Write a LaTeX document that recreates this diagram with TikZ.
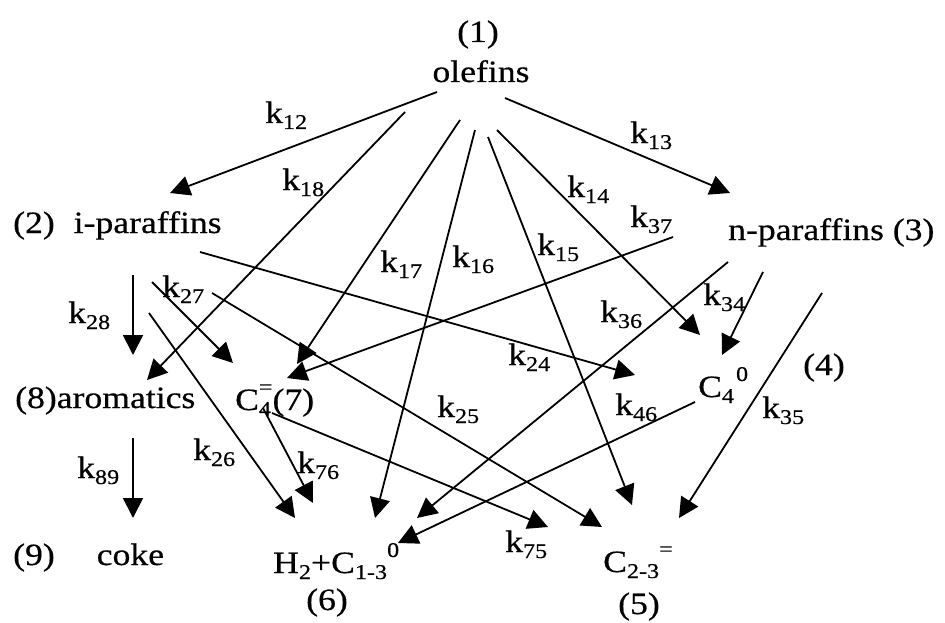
\documentclass[tikz,border=0pt]{standalone}
\usepackage{fontspec}
\setmainfont{Liberation Serif}[FakeStretch=1.15,Ligatures=NoCommon,FakeBold=0.5]
\usetikzlibrary{arrows.meta}
\newcommand\subf{\fontsize{21}{21}\selectfont}
\newcommand\mysub[1]{\raisebox{-6pt}{\subf #1}}
\newcommand\mysup[1]{\raisebox{16pt}{\subf #1}}
\newcommand\kl[1]{k\mysub{#1}}
\begin{document}
\begin{tikzpicture}[x=1pt,y=-1pt,
  every node/.style={inner sep=0pt,font=\fontsize{31}{34}\selectfont},
  lab/.style={anchor=base west},
  conn/.style={line width=1.8pt,-{Triangle[length=20pt,width=20pt]}}]
\useasboundingbox (0,0) rectangle (945,623);
% species
\node[anchor=base] (n1) at (478,42) {(1)};
\node[anchor=base] (ol) at (481,82) {olefins};
\node[lab] (n2) at (13,233) {(2)\hspace{19pt}i-paraffins};
\node[lab] (n3) at (728,240) {n-paraffins (3)};
\node[lab] (n8) at (15,408) {(8)aromatics};
\node[lab] (n7) at (235,410) {C\rlap{\mysub{4}}\mysup{=}(7)};
\node[lab] (n4) at (698,397) {C\mysub{4}\hspace{2pt}\mysup{0}};
\node[lab] (n4b) at (803,375) {(4)};
\node[lab] (n9) at (13,565) {(9)\hspace{42pt}coke};
\node[lab] (n6) at (273,573) {H\mysub{2}+C\mysub{1-3}\mysup{0}};
\node[anchor=base] (n6b) at (327,610) {(6)};
\node[lab] (n5) at (603,572) {C\mysub{2-3}\mysup{=}};
\node[anchor=base] (n5b) at (639,614) {(5)};
% rate labels
\node[lab] (k12) at (265,123) {\kl{12}};
\node[lab] (k18) at (282,190) {\kl{18}};
\node[lab] (k17) at (380,272) {\kl{17}};
\node[lab] (k16) at (452,267) {\kl{16}};
\node[lab] (k15) at (537,255) {\kl{15}};
\node[lab] (k14) at (567,197) {\kl{14}};
\node[lab] (k13) at (630,143) {\kl{13}};
\node[lab] (k37) at (630,227) {\kl{37}};
\node[lab] (k34) at (703,305) {\kl{34}};
\node[lab] (k36) at (600,322) {\kl{36}};
\node[lab] (k24) at (508,365) {\kl{24}};
\node[lab] (k46) at (615,415) {\kl{46}};
\node[lab] (k35) at (762,418) {\kl{35}};
\node[lab] (k25) at (437,417) {\kl{25}};
\node[lab] (k27) at (162,297) {\kl{27}};
\node[lab] (k28) at (68,323) {\kl{28}};
\node[lab] (k89) at (77,478) {\kl{89}};
\node[lab] (k26) at (193,460) {\kl{26}};
\node[lab] (k76) at (297,473) {\kl{76}};
\node[lab] (k75) at (505,552) {\kl{75}};
% connector ends
\coordinate (s12) at (437,92);  \coordinate (e12) at (170,193);
\coordinate (s13) at (505,98);  \coordinate (e13) at (730,193);
\coordinate (s18) at (405,112); \coordinate (e18) at (147,380);
\coordinate (s17) at (460,120); \coordinate (e17) at (297,364);
\coordinate (s16) at (475,130); \coordinate (e16) at (375,518);
\coordinate (s15) at (488,137); \coordinate (e15) at (632,505);
\coordinate (s14) at (497,130); \coordinate (e14) at (700,335);
\coordinate (s37) at (673,237); \coordinate (e37) at (287,378);
\coordinate (s34) at (763,272); \coordinate (e34) at (722,355);
\coordinate (s36) at (728,262); \coordinate (e36) at (417,518);
\coordinate (s35) at (822,293); \coordinate (e35) at (679,518);
\coordinate (s24) at (200,252); \coordinate (e24) at (635,375);
\coordinate (s46) at (695,402); \coordinate (e46) at (398,543);
\coordinate (s25) at (212,293); \coordinate (e25) at (602,527);
\coordinate (s27) at (152,282); \coordinate (e27) at (233,363);
\coordinate (s26) at (149,313); \coordinate (e26) at (295,518);
\coordinate (s76) at (263,408); \coordinate (e76) at (313,503);
\coordinate (s75) at (272,413); \coordinate (e75) at (548,527);
\coordinate (s28) at (133,275); \coordinate (e28) at (133,355);
\coordinate (s89) at (133,438); \coordinate (e89) at (133,518);
\foreach \i in {12,13,18,17,16,15,14,37,34,36,35,24,46,25,27,26,76,75,28,89}
  \draw[conn] (s\i) -- (e\i);
\end{tikzpicture}
\end{document}
